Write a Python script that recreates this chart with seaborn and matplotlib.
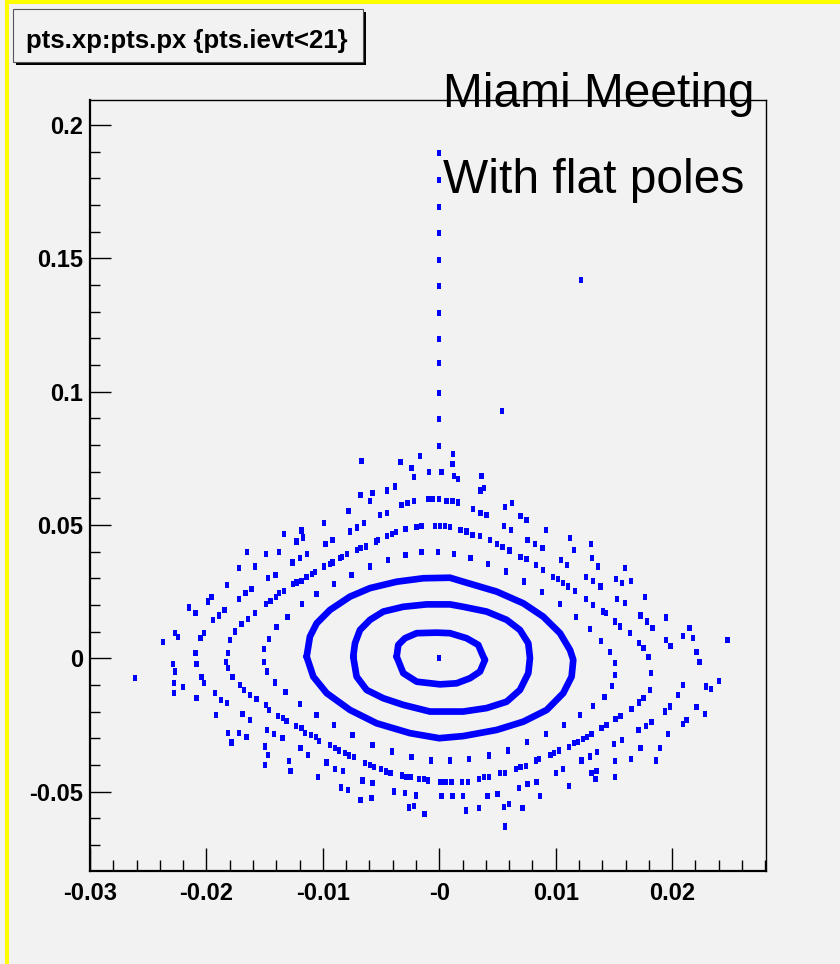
import numpy as np
import pandas as pd
import matplotlib
matplotlib.use("Agg")
import matplotlib.pyplot as plt
import seaborn as sns
from matplotlib import font_manager as fm
from matplotlib.patches import Rectangle
from matplotlib.ticker import FixedLocator, MultipleLocator

# ---------------------------------------------------------------- data
# Closed, densely populated orbits (px on x, xp on y)
ring1_px = [-0.00366, -0.00352, -0.00295, -0.00194, -0.00022, 0.00092, 0.00235, 0.00335,
            0.00378, 0.00393, 0.00350, 0.00264, 0.00149, 0.00006, -0.00194, -0.00309]
ring1_xp = [0.0006, 0.0050, 0.0075, 0.0094, 0.0096, 0.0094, 0.0075, 0.0050,
            0.0006, -0.0006, -0.0050, -0.0075, -0.0094, -0.0098, -0.0088, -0.0056]

ring2_px = [-0.00739, -0.00724, -0.00681, -0.00595, -0.00481, -0.00309, -0.00108, 0.00092,
            0.00206, 0.00407, 0.00579, 0.00693, 0.00765, 0.00779, 0.00765, 0.00693,
            0.00579, 0.00407, 0.00206, -0.00080, -0.00309, -0.00481, -0.00624, -0.00710]
ring2_xp = [0.0006, 0.0056, 0.0106, 0.0144, 0.0175, 0.0193, 0.0202, 0.0202,
            0.0193, 0.0175, 0.0144, 0.0106, 0.0056, 0.0001, -0.0056, -0.0119,
            -0.0163, -0.0187, -0.0200, -0.0200, -0.0175, -0.0150, -0.0119, -0.0069]

ring3_px = [-0.01139, -0.01111, -0.01053, -0.00939, -0.00767, -0.00595, -0.00366, -0.00137,
            0.00092, 0.00206, 0.00493, 0.00722, 0.00893, 0.01037, 0.01123, 0.01151,
            0.01137, 0.01065, 0.00923, 0.00722, 0.00493, 0.00206, 0.00000, -0.00252,
            -0.00538, -0.00767, -0.00967, -0.01082]
ring3_xp = [0.0006, 0.0081, 0.0131, 0.0181, 0.0231, 0.0263, 0.0287, 0.0300,
            0.0302, 0.0287, 0.0250, 0.0206, 0.0156, 0.0094, 0.0031, -0.0006,
            -0.0069, -0.0131, -0.0194, -0.0238, -0.0269, -0.0292, -0.0300, -0.0281,
            -0.0244, -0.0194, -0.0131, -0.0069]

# Individual tracked points of the outer orbits
px_pts = [
    0.0, -0.00166, -0.00667, -0.00332, -0.00238, -0.00086, 0.0002, -0.00218, -0.00381, -0.00447,
    -0.00573, -0.00676, -0.00596, -0.00324, -0.00272, -0.00218, -0.00092, -0.00052, 0.0, 0.00063,
    -0.00779, -0.00447, -0.0051, -0.00991, -0.00644, -0.00704, -0.00767, -0.00289, -0.00195, -0.00152,
    -0.00037, 0.00006, 0.00049, -0.01334, -0.01183, -0.01168, -0.00447, -0.00404, -0.00372, -0.01226,
    -0.00977, -0.00916, -0.00524, -0.00544, -0.0063, -0.00676, -0.00704, -0.0079, -0.00833, -0.00853,
    -0.0165, -0.01489, -0.01375, -0.01134, -0.01197, -0.0126, -0.00939, -0.00916, -0.00991, -0.01718,
    -0.01584, -0.01406, -0.01469, -0.01068, -0.01091, -0.0114, -0.01183, -0.01226, -0.01254, -0.01821,
    -0.01332, -0.01375, -0.01403, -0.01449, -0.01489, -0.01612, -0.01664, -0.01718, -0.01956, -0.01985,
    -0.02148, -0.02093, -0.01844, -0.01893, -0.01942, -0.01584, -0.01641, -0.01698, -0.01755, -0.01798,
    -0.01813, -0.01506, -0.01463, -0.01398, -0.01303, -0.01177, -0.01054, -0.00902, -0.00753, -0.00596,
    -0.00438, -0.00289, -0.00152, -0.00009, -0.0205, -0.02019, -0.02093, -0.02271, -0.02242, -0.02371,
    # upper right
    0.0012, 0.00115, 0.00126, 0.00163, 0.00364, 0.00355, 0.00384, 0.00115, 0.00163, 0.00292,
    0.00355, 0.00407, 0.00564, 0.00627, 0.00699, 0.0075, 0.00556, 0.00616, 0.00916, 0.00092,
    0.00183, 0.00235, 0.00286, 0.00349, 0.00435, 0.00498, 0.00544, 0.00602, 0.00699, 0.0075,
    0.0083, 0.00893, 0.00979, 0.01022, 0.01065, 0.01108, 0.01166, 0.0126, 0.01323, 0.01409,
    0.01432, 0.01509, 0.01552, 0.01638, 0.01718, 0.01753, 0.01796, 0.00126, 0.00269, 0.00421,
    0.00573, 0.0073, 0.00885, 0.01037, 0.01174, 0.01294, 0.01389, 0.01466, 0.00759, 0.00822,
    0.00888, 0.01043, 0.011, 0.01123, 0.01157, 0.0126, 0.01323, 0.01386, 0.01303, 0.01314,
    0.01366, 0.01518, 0.01572, 0.01595, 0.01647, 0.01529, 0.01595, 0.01767, 0.0173, 0.01787,
    0.01833, 0.01947, 0.01947, 0.01987, 0.02096, 0.02148, 0.02182, 0.02211, 0.02477,
    # lower right
    0.01816, 0.0181, 0.01753, 0.01718, 0.01652, 0.01558, 0.01515, 0.01438, 0.01395, 0.01309,
    0.01271, 0.01237, 0.01194, 0.01157, 0.01117, 0.01028, 0.00985, 0.00956, 0.00859, 0.0083,
    0.00745, 0.00699, 0.00659, 0.00564, 0.00521, 0.0043, 0.00387, 0.00344, 0.00249, 0.00198,
    0.00106, 0.00054, 0.00011, 0.01509, 0.01509, 0.01486, 0.01418, 0.01323, 0.01208, 0.01071,
    0.00916, 0.00756, 0.00593, 0.0043, 0.00258, 0.00092, 0.02234, 0.02096, 0.02053, 0.01982,
    0.01939, 0.02291, 0.02334, 0.02405, 0.02211, 0.02282, 0.02125, 0.02096, 0.01967, 0.01896,
    0.01859, 0.01824, 0.01776, 0.0171, 0.01572, 0.01501, 0.0173, 0.01647, 0.01509, 0.01509,
    0.01357, 0.01294, 0.01223, 0.01352, 0.01309, 0.01343, 0.01065, 0.01002, 0.01117, 0.00836,
    0.00759, 0.00687, 0.00865, 0.00716, 0.00601, 0.00556, 0.00501, 0.00415, 0.00564, 0.00344,
    0.00229, 0.00206, 0.00115, 0.0002,
    # lower left
    -0.01506, -0.01478, -0.01412, -0.0132, -0.01197, -0.01054, -0.00902, -0.00745, -0.00573, -0.00404,
    -0.00238, -0.00072, -0.01833, -0.01813, -0.01776, -0.01712, -0.01678, -0.01627, -0.01569, -0.01489,
    -0.0146, -0.01383, -0.0134, -0.01312, -0.01231, -0.01183, -0.01154, -0.01103, -0.0106, -0.01031,
    -0.00939, -0.00896, -0.00859, -0.0081, -0.00773, -0.0073, -0.00639, -0.00596, -0.00561, -0.00501,
    -0.00458, -0.00418, -0.00318, -0.00281, -0.00243, -0.00175, -0.00132, -0.00095, -0.02085, -0.02042,
    -0.02022, -0.01927, -0.01876, -0.01821, -0.0169, -0.01627, -0.01478, -0.01418, -0.01346, -0.01191,
    -0.01125, -0.00968, -0.00896, -0.00825, -0.00659, -0.00573, -0.00387, -0.00295, -0.002, -0.02285,
    -0.02271, -0.0228, -0.0228, -0.02199, -0.02085, -0.01919, -0.01813, -0.01718, -0.01655, -0.01784,
    -0.01498, -0.01469, -0.01498, -0.01289, -0.01277, -0.0104, -0.00845, -0.00782, -0.00676, -0.00581,
    -0.00258, -0.00218, -0.00126, -0.02614,
    # centre and the upper spike
    0.0, 0.0, 0.0, 0.0, 0.0, 0.0, 0.0, 0.0, 0.0, 0.0, 0.0, 0.0, 0.01217, 0.00541,
]
xp_pts = [
    0.0796, 0.0759, 0.0741, 0.0735, 0.0713, 0.0698, 0.0698, 0.0681, 0.0644, 0.0629,
    0.0621, 0.0613, 0.0590, 0.0575, 0.0581, 0.0590, 0.0598, 0.0598, 0.0596, 0.0590,
    0.0551, 0.0544, 0.0536, 0.0506, 0.0506, 0.049, 0.0475, 0.0484, 0.0491, 0.0496,
    0.0496, 0.0496, 0.0496, 0.0466, 0.0479, 0.0453, 0.0459, 0.0466, 0.0473, 0.0438,
    0.0429, 0.0444, 0.0444, 0.0438, 0.0419, 0.0413, 0.0406, 0.039, 0.0381, 0.0375,
    0.0398, 0.039, 0.0398, 0.039, 0.0375, 0.0359, 0.0354, 0.0359, 0.0344, 0.0338,
    0.0344, 0.0313, 0.03, 0.0323, 0.0316, 0.0306, 0.0291, 0.0284, 0.0278, 0.0275,
    0.0253, 0.0244, 0.0231, 0.0215, 0.0203, 0.026, 0.0244, 0.0221, 0.0231, 0.0213,
    0.019, 0.0169, 0.0181, 0.016, 0.0144, 0.0169, 0.0148, 0.0128, 0.01, 0.0069,
    0.0019, 0.0034, 0.0071, 0.0116, 0.0156, 0.0203, 0.0241, 0.0279, 0.0313, 0.0344,
    0.0369, 0.0388, 0.0398, 0.0398, 0.0075, 0.0094, 0.0019, 0.0094, 0.0081, 0.006,
    # upper right
    0.0766, 0.0729, 0.0684, 0.0673, 0.0684, 0.0629, 0.0638, 0.059, 0.0584, 0.0559,
    0.0546, 0.0538, 0.0566, 0.0581, 0.0535, 0.0519, 0.0496, 0.0481, 0.0481, 0.0491,
    0.0481, 0.0475, 0.0463, 0.0459, 0.0444, 0.0429, 0.0416, 0.0404, 0.0381, 0.0371,
    0.035, 0.0331, 0.0306, 0.0296, 0.0281, 0.0269, 0.0253, 0.0221, 0.02, 0.0175,
    0.0169, 0.0138, 0.0119, 0.0094, 0.0056, 0.0038, 0.0006, 0.0391, 0.0375, 0.0353,
    0.0325, 0.0288, 0.0248, 0.0204, 0.0156, 0.011, 0.0065, 0.0023, 0.0444, 0.0429,
    0.0413, 0.0369, 0.035, 0.045, 0.0406, 0.0306, 0.0291, 0.0269, 0.0428, 0.0375,
    0.0344, 0.0296, 0.0281, 0.0338, 0.029, 0.0221, 0.0206, 0.0229, 0.016, 0.0138,
    0.0113, 0.0153, 0.0069, 0.0046, 0.0084, 0.0113, 0.0075, 0.0023, 0.0069,
    # lower right
    -0.0056, -0.0119, -0.015, -0.0166, -0.0191, -0.0216, -0.0229, -0.0251, -0.0263, -0.0284,
    -0.0296, -0.0304, -0.0313, -0.0319, -0.0334, -0.0346, -0.0356, -0.0363, -0.0379, -0.0384,
    -0.0403, -0.0409, -0.0416, -0.0431, -0.0431, -0.0446, -0.0446, -0.0454, -0.0463, -0.0463,
    -0.0463, -0.0463, -0.0463, -0.0019, -0.0063, -0.0104, -0.0144, -0.0179, -0.0213, -0.025,
    -0.0284, -0.0315, -0.0346, -0.0365, -0.0378, -0.0384, -0.0013, -0.01, -0.0138, -0.0181,
    -0.02, -0.0106, -0.0116, -0.0085, -0.0184, -0.0209, -0.0231, -0.0246, -0.0284, -0.0338,
    -0.0384, -0.0238, -0.0254, -0.0269, -0.0306, -0.0321, -0.0338, -0.0378, -0.0385, -0.0446,
    -0.0353, -0.0369, -0.0384, -0.0423, -0.0431, -0.0453, -0.0415, -0.0431, -0.0478, -0.0463,
    -0.0471, -0.0486, -0.0516, -0.0563, -0.0546, -0.0559, -0.0509, -0.0516, -0.0631, -0.0563,
    -0.0571, -0.0516, -0.0516, -0.0516,
    # lower left
    -0.0013, -0.005, -0.0091, -0.0128, -0.0173, -0.0213, -0.025, -0.0288, -0.0325, -0.035,
    -0.0371, -0.0384, -0.0013, -0.0038, -0.0069, -0.01, -0.0119, -0.0138, -0.0154, -0.0175,
    -0.0194, -0.0216, -0.0225, -0.0234, -0.0254, -0.0263, -0.0279, -0.0288, -0.0296, -0.0309,
    -0.0325, -0.0338, -0.0346, -0.0356, -0.0365, -0.0371, -0.0394, -0.04, -0.0409, -0.0416,
    -0.0425, -0.0431, -0.044, -0.0446, -0.0446, -0.0453, -0.0453, -0.0459, -0.0021, -0.0069,
    -0.0094, -0.0131, -0.0156, -0.0169, -0.0209, -0.0231, -0.0269, -0.0284, -0.03, -0.0338,
    -0.0363, -0.0391, -0.0416, -0.0423, -0.0459, -0.0469, -0.05, -0.0506, -0.0515, -0.0021,
    -0.005, -0.0094, -0.0131, -0.0109, -0.015, -0.0213, -0.0279, -0.0279, -0.0294, -0.0316,
    -0.0331, -0.0363, -0.04, -0.0385, -0.0423, -0.0446, -0.0485, -0.0494, -0.0531, -0.0523,
    -0.056, -0.0554, -0.0584, -0.0074,
    # centre and the upper spike
    0.0, 0.1896, 0.1794, 0.1693, 0.1594, 0.1494, 0.1396, 0.1296, 0.1196, 0.1106, 0.0996, 0.0896,
    0.1419, 0.0927,
]

x_ticks = [-0.03, -0.02, -0.01, 0.0, 0.01, 0.02]
x_labels = ["-0.03", "-0.02", "-0.01", "-0", "0.01", "0.02"]
y_ticks = [-0.05, 0.0, 0.05, 0.1, 0.15, 0.2]
y_labels = ["-0.05", "0", "0.05", "0.1", "0.15", "0.2"]

title_text = "pts.xp:pts.px {pts.ievt<21}"
note_lines = ["Miami Meeting", "With flat poles"]

# ---------------------------------------------------------------- style
W, H = 840, 964
BG = "#f2f2f2"
BLUE = "#0000ff"

sns.set_theme(style="ticks")


def pick_family(cands, default="DejaVu Sans"):
    for c in cands:
        try:
            fm.findfont(fm.FontProperties(family=c), fallback_to_default=False)
            return c
        except Exception:
            pass
    return default


narrow = pick_family(["Liberation Sans Narrow", "Liberation Sans", "DejaVu Sans"])
is_narrow = narrow == "Liberation Sans Narrow"
plain = pick_family(["Liberation Sans", "Arial", "DejaVu Sans"])
plt.rcParams["font.family"] = [plain, "DejaVu Sans"]


def fx(px):
    return px / W


def fy(py):
    return 1 - py / H


fig = plt.figure(figsize=(W / 100, H / 100), dpi=100, facecolor=BG)

# canvas border strips
fig.add_artist(Rectangle((fx(5), 0), 4 / W, 1, transform=fig.transFigure,
                         facecolor="#ffff00", edgecolor="none", zorder=0))
fig.add_artist(Rectangle((fx(5), fy(4)), 1, 4 / H, transform=fig.transFigure,
                         facecolor="#ffff00", edgecolor="none", zorder=0))

left, right, top, bottom = 90, 765.7, 100, 870.7
ax = fig.add_axes([fx(left), fy(bottom), (right - left) / W, (bottom - top) / H])
ax.set_facecolor(BG)

# dense orbits as continuous thick curves
frames = []
for name, xs, ys in [("r1", ring1_px, ring1_xp), ("r2", ring2_px, ring2_xp),
                     ("r3", ring3_px, ring3_xp)]:
    xs_c = list(xs) + [xs[0]]
    ys_c = list(ys) + [ys[0]]
    frames.append(pd.DataFrame({"px": xs_c, "xp": ys_c, "orbit": name}))
rings = pd.concat(frames, ignore_index=True)
sns.lineplot(data=rings, x="px", y="xp", units="orbit", estimator=None, sort=False,
             color=BLUE, linewidth=4.8, ax=ax, legend=False,
             solid_joinstyle="round", solid_capstyle="round")

# scattered points as small upright rectangles
rect = [(-0.35, -0.5), (0.35, -0.5), (0.35, 0.5), (-0.35, 0.5), (-0.35, -0.5)]
pts = pd.DataFrame({"px": px_pts, "xp": xp_pts})
sns.scatterplot(data=pts, x="px", y="xp", marker=rect, s=20, color=BLUE,
                linewidth=0, edgecolor="none", ax=ax, legend=False)

ax.set_xlim(-0.03, 0.02804)
ax.set_ylim(-0.0797, 0.2094)
ax.xaxis.set_major_locator(FixedLocator(x_ticks))
ax.yaxis.set_major_locator(FixedLocator(y_ticks))
ax.set_xticklabels(x_labels)
ax.set_yticklabels(y_labels)
ax.xaxis.set_minor_locator(MultipleLocator(0.002))
ax.yaxis.set_minor_locator(MultipleLocator(0.01))
ax.set_xlabel("")
ax.set_ylabel("")
ax.grid(False)

ax.tick_params(axis="both", which="both", direction="in", top=False, right=False,
               color="black", width=1.0)
ax.tick_params(axis="x", which="major", length=16.5, pad=8)
ax.tick_params(axis="x", which="minor", length=8)
ax.tick_params(axis="y", which="major", length=15, pad=5)
ax.tick_params(axis="y", which="minor", length=7.2)
for lab in ax.get_xticklabels() + ax.get_yticklabels():
    lab.set_fontfamily([narrow, "DejaVu Sans"])
    lab.set_fontweight("bold")
    lab.set_fontsize(19 if is_narrow else 17)
    lab.set_color("black")

for side in ["top", "right"]:
    ax.spines[side].set_linewidth(1.0)
    ax.spines[side].set_color("black")
for side in ["left", "bottom"]:
    ax.spines[side].set_linewidth(1.6)
    ax.spines[side].set_color("black")

# title box with drop shadow
fig.add_artist(Rectangle((fx(16), fy(65)), 350 / W, 53 / H, transform=fig.transFigure,
                         facecolor="black", edgecolor="none", zorder=2))
fig.add_artist(Rectangle((fx(13), fy(62)), 350 / W, 53 / H, transform=fig.transFigure,
                         facecolor=BG, edgecolor="#555555", linewidth=0.8, zorder=3))
fig.text(fx(187), fy(48), title_text, ha="center", va="baseline",
         fontsize=22 if is_narrow else 18.5, fontweight="bold",
         family=[narrow, "DejaVu Sans"], color="black", zorder=4)

# annotation lines
fig.text(fx(443), fy(107), note_lines[0], ha="left", va="baseline", fontsize=34.5,
         color="black", zorder=10)
fig.text(fx(443), fy(193), note_lines[1], ha="left", va="baseline", fontsize=34.5,
         color="black", zorder=10)

fig.savefig("out.png", dpi=100, facecolor=BG)
